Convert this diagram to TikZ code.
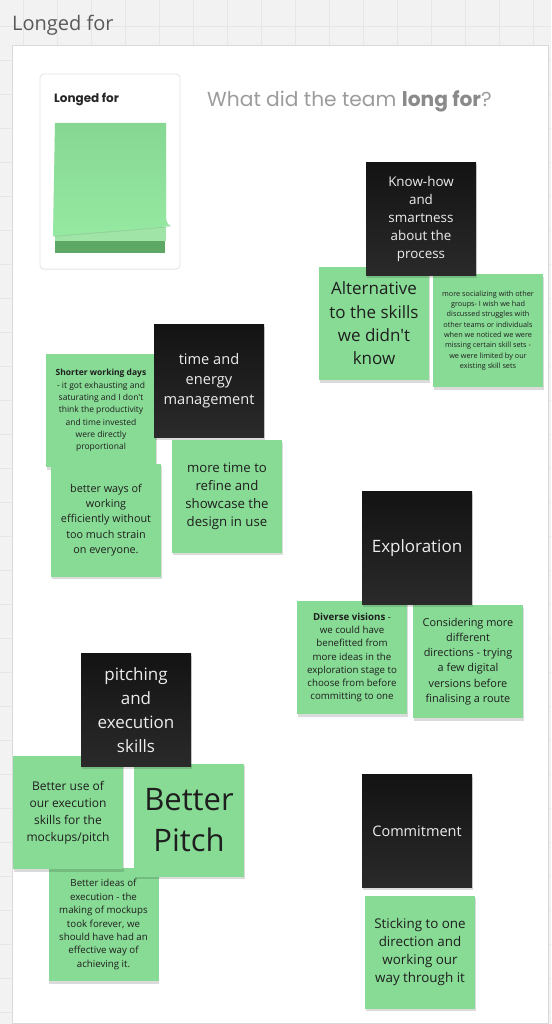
\documentclass[tikz,border=0pt]{standalone}
\usepackage{fontspec}
\setmainfont{Open Sans}[Ligatures=TeXOff]
\newfontfamily\poppfont{Poppins}
\usetikzlibrary{shadows}
\definecolor{bggray}{HTML}{F2F2F2}
\definecolor{gridgray}{HTML}{E6E6E6}
\definecolor{framegray}{HTML}{DADADA}
\definecolor{stickgreen}{RGB}{136,219,149}
\definecolor{peeltop}{RGB}{133,215,146}
\definecolor{peelbot}{RGB}{150,233,161}
\definecolor{peelmid}{RGB}{160,228,168}
\definecolor{peeldark}{RGB}{94,168,102}
\definecolor{darktop}{HTML}{131313}
\definecolor{darkbot}{HTML}{2A2A2A}
\definecolor{greentext}{HTML}{1E1E1E}
\definecolor{darktext}{HTML}{EDEDED}
\definecolor{titlegray}{HTML}{595959}
\definecolor{headgray}{HTML}{9C9C9C}
\definecolor{headbold}{HTML}{8A8A8A}
\definecolor{cardline}{HTML}{E3E3EA}
\newcommand\fsz[2]{\fontsize{#1}{#2}\selectfont}
\tikzset{
  notebase/.style={minimum width=110pt, minimum height=113pt, inner sep=0pt, align=center,
    drop shadow={shadow xshift=0.5pt, shadow yshift=-2.5pt, opacity=0.14, fill=black}},
  gnote/.style={notebase, fill=stickgreen, text=greentext},
  dnote/.style={notebase, top color=darktop, bottom color=darkbot, text=darktext},
}
\begin{document}
\begin{tikzpicture}[x=1pt,y=-1pt]
\useasboundingbox (0,0) rectangle (551,1024);
% background grid
\fill[bggray] (0,0) rectangle (551,1024);
\foreach \gx in {23,57,...,551} \draw[gridgray,line width=0.6pt] (\gx,0) -- (\gx,1024);
\foreach \gy in {26,60,...,1024} \draw[gridgray,line width=0.6pt] (0,\gy) -- (551,\gy);
% title
\node[anchor=base west, inner sep=0pt, text=titlegray, font=\fsz{20}{24}] (title) at (12,31) {Longed for};
% frame
\draw[framegray, fill=white, line width=0.8pt] (12,45) rectangle (548,1023);
% template card
\path[fill=white, draw=cardline, line width=0.8pt, rounded corners=4pt,
  drop shadow={shadow xshift=0pt, shadow yshift=-1pt, opacity=0.04, fill=black}] (40,74) rectangle (180,269);
\node[anchor=base west, inner sep=0pt, text=black!85, font=\poppfont\bfseries\fsz{12}{14}] (cardlabel) at (54,103) {Longed for};
\fill[peeldark] (55,240) rectangle (165,253);
\fill[peelmid] (55,227) rectangle (166,241);
\shade[top color=peeltop, bottom color=peelbot,
  drop shadow={shadow xshift=0pt, shadow yshift=-1pt, opacity=0.08, fill=black}]
  (55,123) -- (166,123) -- (166,216) .. controls (166,222) and (168,225) .. (171,226)
  .. controls (130,230) and (85,233) .. (53,236) -- cycle;
% heading
\node[anchor=base west, inner sep=0pt, text=headgray, font=\poppfont\fsz{20.2}{24}] (heading) at (207,106.5)
  {What did the team {\color{headbold}\bfseries long for}?};

% group 1
\node[gnote, font=\fsz{17}{23.3}] (alt) at (374,323.5) {Alternative\\to the skills\\we didn't\\know};
\node[gnote, font=\fsz{7.3}{10.3}] (social) at (488,330.5) {more socializing with other\\groups- I wish we had\\discussed struggles with\\other teams or individuals\\when we noticed we were\\missing certain skill sets -\\we were limited by our\\existing skill sets};
\node[dnote, font=\fsz{13.4}{18}] (knowhow) at (421,219) {Know-how\\and\\smartness\\about the\\process};

% group 2
\node[gnote, font=\fsz{8.5}{12.3}] (shorter) at (101,410.5) {\textbf{Shorter working days}\\- it got exhausting and\\saturating and I don't\\think the productivity\\and time invested\\were directly\\proportional};
\node[dnote, font=\fsz{14.6}{20}] (timeen) at (209,380.5) {time and\\energy\\management};
\node[gnote, font=\fsz{10.8}{15.2}] (ways) at (106,520) {better ways of\\working\\efficiently without\\too much strain\\on everyone.};
\node[gnote, font=\fsz{13.2}{18}] (moretime) at (227,496) {more time to\\refine and\\showcase the\\design in use};

% group 3
\node[gnote, font=\fsz{9.7}{13.3}] (diverse) at (352,657.5) {\textbf{Diverse visions} -\\we could have\\benefitted from\\more ideas in the\\exploration stage to\\choose from before\\committing to one};
\node[gnote, font=\fsz{10.9}{15.2}] (consider) at (468,661.5) {Considering more\\different\\directions - trying\\a few digital\\versions before\\finalising a route};
\node[dnote, font=\fsz{17}{22}] (explore) at (417,548) {Exploration};

% group 4
\node[gnote, font=\fsz{9.7}{13.4}] (ideas) at (103.5,924.5) {Better ideas of\\execution - the\\making of mockups\\took forever, we\\should have had an\\effective way of\\achieving it.};
\node[gnote, font=\fsz{12}{17}] (betteruse) at (68,812.5) {Better use of\\our execution\\skills for the\\mockups/pitch};
\node[gnote, font=\fsz{31}{41.5}] (pitch) at (189,820) {Better\\Pitch};
\node[dnote, font=\fsz{17}{24}] (pitching) at (136,710) {pitching\\and\\execution\\skills};

% group 5
\node[dnote, font=\fsz{14.5}{20}] (commit) at (417,831) {Commitment};
\node[gnote, font=\fsz{13.4}{18.3}] (sticking) at (420,952) {Sticking to one\\direction and\\working our\\way through it};
\end{tikzpicture}
\end{document}
